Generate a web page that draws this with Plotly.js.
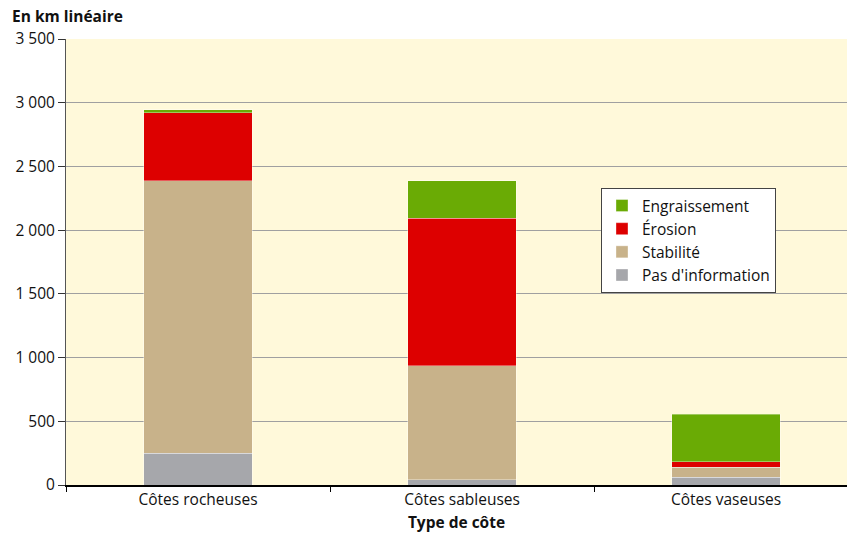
<!DOCTYPE html>
<html>
<head>
<meta charset="utf-8">
<script src="https://cdn.plot.ly/plotly-3.0.1.min.js"></script>
<style>html,body{margin:0;padding:0;background:#fff;}#chart{width:847px;height:533px;}</style>
</head>
<body>
<div id="chart"></div>
<script>
const categories = ["Côtes rocheuses", "Côtes sableuses", "Côtes vaseuses"];
const pasInformation = [250, 40, 60];
const stabilite = [2136, 894, 81];
const erosion = [534, 1159, 42];
const engraissement = [25, 293, 372];
const yTickVals = [0, 500, 1000, 1500, 2000, 2500, 3000, 3500];
const yTickText = ["0", "500", "1 000", "1 500", "2 000", "2 500", "3 000", "3 500"];

const font = "Open Sans, Liberation Sans, sans-serif";
const fs = 15.5;
const edge = {color: "rgba(255,255,255,0.35)", width: 1};
const traces = [
  {name: "Pas d'information", y: pasInformation, color: "#A6A7AB"},
  {name: "Stabilité", y: stabilite, color: "#C8B28A"},
  {name: "Érosion", y: erosion, color: "#DD0000"},
  {name: "Engraissement", y: engraissement, color: "#6AAB05"}
].map(t => ({type: "bar", x: categories, y: t.y, name: t.name,
  marker: {color: t.color, line: edge}, hoverinfo: "y+name"}));

const layout = {
  width: 847, height: 533,
  margin: {l: 66, r: 0, t: 39, b: 48},
  paper_bgcolor: "#ffffff",
  plot_bgcolor: "#FFF9DA",
  barmode: "stack",
  bargap: 0.59,
  font: {family: font, size: fs, color: "#111"},
  showlegend: true,
  legend: {
    x: 0.685, y: 0.666, xanchor: "left", yanchor: "top",
    bgcolor: "#ffffff", bordercolor: "#444", borderwidth: 1,
    traceorder: "reversed", font: {family: font, size: fs, color: "#111"},
    itemwidth: 30
  },
  xaxis: {
    range: [-0.5, 2.458],
    showline: true, linecolor: "#000", linewidth: 1.5,
    ticks: "outside", tickson: "boundaries", ticklen: 5, tickcolor: "#000",
    showgrid: false, zeroline: false,
    tickfont: {family: font, size: fs, color: "#111"},
    title: {text: "<b>Type de côte</b>", font: {family: font, size: fs, color: "#111"}, standoff: 8}
  },
  yaxis: {
    range: [0, 3500],
    tickvals: yTickVals, ticktext: yTickText,
    showline: true, linecolor: "#555", linewidth: 1,
    ticks: "outside", ticklen: 7, tickcolor: "#333",
    showgrid: true, gridcolor: "#a0a0a0", gridwidth: 1,
    zeroline: false,
    tickfont: {family: font, size: fs, color: "#111"}
  },
  annotations: [{
    text: "<b>En km linéaire</b>", xref: "paper", yref: "paper",
    x: -56/781, y: 1, xanchor: "left", yanchor: "bottom", yshift: 10,
    showarrow: false, font: {family: font, size: fs, color: "#111"}
  }]
};

Plotly.newPlot("chart", traces, layout, {displayModeBar: false, staticPlot: true});
</script>
</body>
</html>
